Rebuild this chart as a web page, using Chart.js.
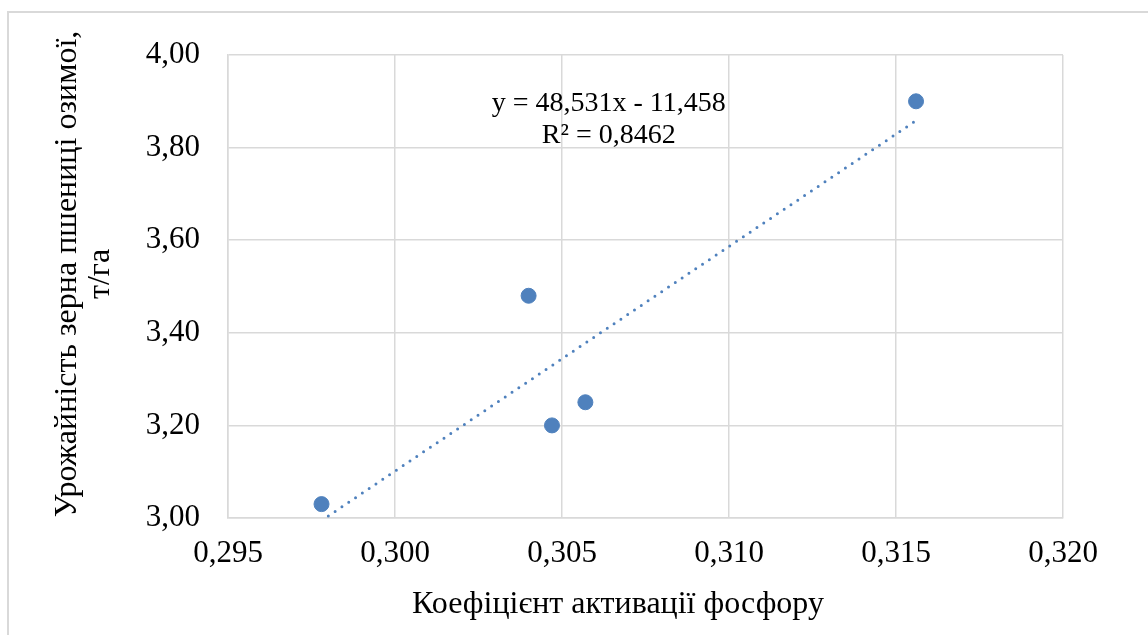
<!DOCTYPE html>
<html>
<head>
<meta charset="utf-8">
<script src="https://cdn.jsdelivr.net/npm/chart.js@4"></script>
<style>
  body { margin: 0; background: #fff; }
  canvas { display: block; }
</style>
</head>
<body>
<canvas id="yieldChart" width="1148" height="635"></canvas>
<script>
// Phosphorus activation coefficient vs winter wheat grain yield
const activation = [0.2978, 0.3040, 0.3047, 0.3057, 0.3156];
const grainYield = [3.03, 3.48, 3.20, 3.25, 3.90];

// linear trendline as stated on the chart
const slope = 48.531;
const intercept = -11.458;
const rSquared = '0,8462';

const xTicks = [0.295, 0.300, 0.305, 0.310, 0.315, 0.320];
const yTicks = [3.00, 3.20, 3.40, 3.60, 3.80, 4.00];

const xTitle = 'Коефіцієнт активації фосфору';
const yTitle = ['Урожайність зерна пшениці озимої,', 'т/га'];

const blue = '#4f81bd';
const gridGrey = '#d9d9d9';
const serif = '"Liberation Serif", "Times New Roman", serif';

const xMin = Math.min(...activation);
const xMax = Math.max(...activation);
const trend = [
    { x: xMin, y: slope * xMin + intercept },
    { x: xMax, y: slope * xMax + intercept }
];

const comma = (v, d) => v.toFixed(d).replace('.', ',');

// frame, axis titles and the trendline equation
const decorations = {
    id: 'decorations',
    beforeDraw(chart) {
        const ctx = chart.ctx;
        ctx.save();
        ctx.strokeStyle = gridGrey;
        ctx.lineWidth = 2;
        ctx.beginPath();
        ctx.moveTo(8, 640);
        ctx.lineTo(8, 12);
        ctx.lineTo(1150, 12);
        ctx.stroke();
        ctx.restore();
    },
    afterDraw(chart) {
        const ctx = chart.ctx;
        const { x, y } = chart.scales;
        ctx.save();
        ctx.fillStyle = '#000';
        ctx.textAlign = 'center';
        ctx.textBaseline = 'middle';

        ctx.font = '32px ' + serif;
        ctx.fillText(xTitle, 618, 605);

        ctx.save();
        ctx.translate(68, 274);
        ctx.rotate(-Math.PI / 2);
        ctx.fillText(yTitle[0], 0, 0);
        ctx.fillText(yTitle[1], 0, 33);
        ctx.restore();

        ctx.font = '28px ' + serif;
        const ex = x.getPixelForValue(0.3064);
        ctx.fillText('y = ' + comma(slope, 3) + 'x - ' + comma(-intercept, 3), ex, y.getPixelForValue(3.895));
        ctx.fillText('R² = ' + rSquared, ex, y.getPixelForValue(3.826));
        ctx.restore();
    }
};

new Chart(document.getElementById('yieldChart'), {
    type: 'scatter',
    data: {
        datasets: [{
            label: 'Урожайність',
            data: activation.map((a, i) => ({ x: a, y: grainYield[i] })),
            backgroundColor: blue,
            borderColor: blue,
            pointRadius: 7.5,
            pointHoverRadius: 7.5,
            order: 1
        }, {
            label: 'Лінійна',
            type: 'line',
            data: trend,
            borderColor: blue,
            borderWidth: 3,
            borderDash: [0, 8.2],
            borderCapStyle: 'round',
            pointRadius: 0,
            fill: false,
            order: 2
        }]
    },
    options: {
        responsive: false,
        animation: false,
        layout: { padding: { left: 0, right: 85, top: 55, bottom: 0 } },
        plugins: {
            legend: { display: false },
            tooltip: { enabled: false }
        },
        scales: {
            x: {
                type: 'linear',
                min: 0.295,
                max: 0.320,
                afterBuildTicks: scale => { scale.ticks = xTicks.map(v => ({ value: v })); },
                afterFit: scale => { scale.height = 117; },
                grid: { color: gridGrey, lineWidth: 1.5, drawTicks: false },
                border: { color: gridGrey, width: 1.5 },
                ticks: {
                    padding: 17,
                    color: '#000',
                    font: { family: serif, size: 31 },
                    callback: v => comma(v, 3)
                }
            },
            y: {
                type: 'linear',
                min: 3.0,
                max: 4.0,
                afterBuildTicks: scale => { scale.ticks = yTicks.map(v => ({ value: v })); },
                afterFit: scale => { scale.width = 228; },
                grid: { color: gridGrey, lineWidth: 1.5, drawTicks: false },
                border: { color: gridGrey, width: 1.5 },
                ticks: {
                    padding: 28,
                    color: '#000',
                    font: { family: serif, size: 31 },
                    callback: v => comma(v, 2)
                }
            }
        }
    },
    plugins: [decorations]
});
</script>
</body>
</html>
